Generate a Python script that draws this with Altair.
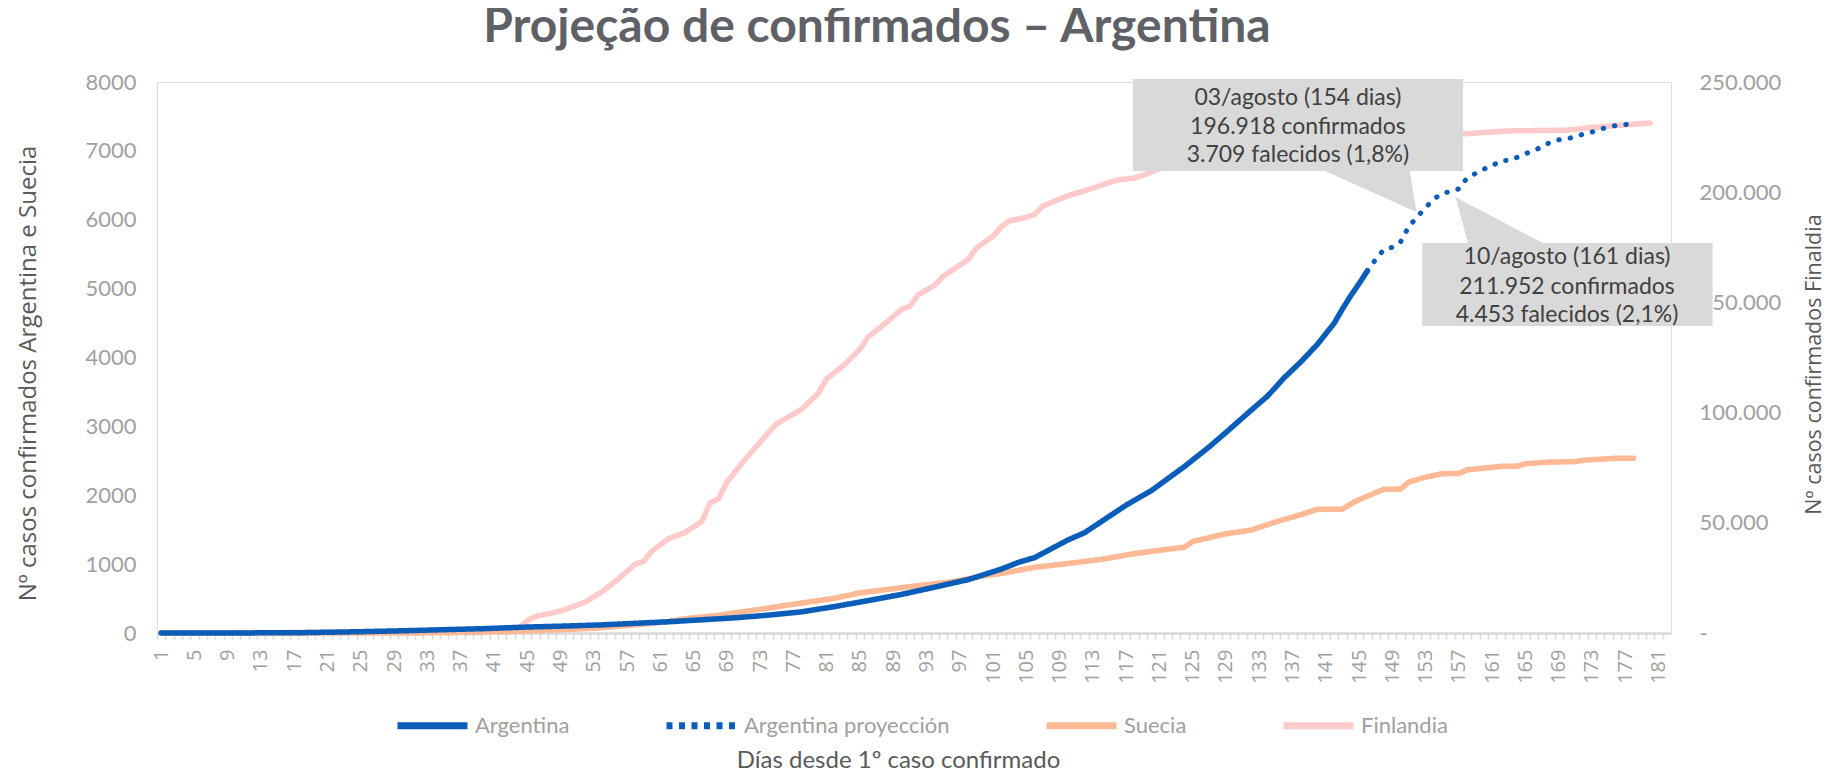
import altair as alt
import pandas as pd

# ---------------- data ----------------
SERIES = ["Argentina", "Argentina proyección", "Suecia", "Finlandia"]
TITLE = "Projeção de confirmados – Argentina"

# Argentina confirmed cases (right axis scale)
arg_days = [1, 10, 18, 22, 25, 30, 35, 40, 45, 50, 54, 58, 62, 66, 70, 74, 78, 82, 86, 90,
            94, 98, 102, 104, 106, 110, 112, 114, 117, 120, 124, 127, 129, 132, 134, 136,
            138, 140, 142, 143, 144, 145, 146]
arg_vals = [1, 20, 150, 400, 600, 1000, 1500, 2000, 2700, 3200, 3700, 4400, 5100, 6000,
            6900, 8100, 9600, 12000, 14700, 17500, 20800, 24200, 29000, 32000, 34200, 42200,
            45500, 50500, 58000, 64500, 75500, 84500, 91000, 101000, 107500, 115800, 123000,
            131000, 140500, 147000, 153000, 158500, 164300]

# Argentina projection (right axis scale)
proj_days = [146, 147, 148, 149, 150, 151, 152, 153, 154, 155, 156, 157, 158, 159, 160, 161,
             162, 163, 164, 165, 166, 167, 168, 169, 170, 171, 172, 173, 174, 175, 176, 177, 178]
proj_vals = [164300, 169500, 174000, 175000, 177500, 184500, 188800, 193000, 196918, 199500,
             200300, 201500, 206500, 208500, 210500, 211952, 214300, 214400, 215800, 217500,
             218800, 220600, 222700, 223800, 224200, 225200, 226400, 227300, 228500, 229700,
             230300, 230700, 231000]

# Suecia confirmed cases (right axis scale)
swe_days = [1, 25, 30, 35, 40, 45, 50, 54, 58, 62, 64, 68, 71, 74, 78, 82, 85, 88, 92, 96,
            100, 102, 106, 110, 114, 118, 122, 124, 125, 129, 132, 135, 138, 140, 143, 144,
            145, 148, 150, 151, 153, 155, 157, 158, 162, 164, 165, 168, 171, 172, 176, 178]
swe_vals = [1, 1, 15, 100, 400, 900, 1600, 2400, 3700, 5200, 6500, 8000, 9700, 11300, 13600,
            15800, 18200, 19600, 21500, 23200, 26000, 27000, 29800, 31500, 33400, 36000,
            38000, 38900, 41500, 45000, 46700, 50400, 53700, 56200, 56200, 58500, 60500,
            65200, 65300, 68500, 70700, 72300, 72400, 74000, 75600, 75700, 76800, 77600,
            77700, 78400, 79300, 79300]

# Finlandia confirmed cases (left axis scale)
fin_days = [1, 38, 41, 43, 44, 45, 46, 48, 49, 50, 52, 54, 56, 58, 59, 60, 62, 64, 66, 67, 68,
            69, 71, 74, 75, 78, 80, 81, 83, 85, 86, 88, 90, 91, 92, 94, 95, 98, 99, 101, 102,
            103, 105, 106, 107, 110, 112, 114, 116, 118, 119, 121, 125, 130, 135, 140, 145,
            150, 154, 158, 163, 170, 173, 180]
fin_vals = [1, 20, 30, 60, 70, 180, 240, 290, 320, 360, 450, 600, 790, 1000, 1040, 1190, 1370,
            1460, 1620, 1890, 1950, 2190, 2490, 2910, 3040, 3250, 3480, 3690, 3880, 4120,
            4300, 4490, 4700, 4745, 4910, 5050, 5180, 5420, 5590, 5760, 5900, 5985, 6035,
            6080, 6200, 6350, 6420, 6500, 6580, 6605, 6645, 6740, 6860, 6960, 7040, 7110,
            7170, 7210, 7235, 7250, 7290, 7300, 7340, 7405]

# Annotations (right axis scale)
box_x1 = [117.8, 152.6]
box_x2 = [157.5, 187.5]
box_y1 = [209600, 139300]
box_y2 = [251400, 176900]
box_cx = [137.65, 170.0]
box_lines = [["03/agosto (154 dias)", "196.918 confirmados", "3.709 falecidos (1,8%)"],
             ["10/agosto (161 dias)", "211.952 confirmados", "4.453 falecidos (2,1%)"]]
box_line_y = [[242700, 229600, 216900], [170400, 157200, 144500]]
# callout triangles: apex (day, value), base left, base right
tail_apex = [(151.9, 191000), (156.6, 197800)]
tail_base = [((140.9, 209600), (151.1, 209600)), ((158.1, 176900), (167.1, 176900))]
# chart title anchor (day, right-axis value)
title_pos = (87.05, 268100)

# ---------------- tables ----------------
def series_df(days, vals, name):
    return pd.DataFrame({"day": days, "value": vals, "serie": name})

right_df = pd.concat([
    series_df(swe_days, swe_vals, "Suecia"),
    series_df(arg_days, arg_vals, "Argentina"),
])
proj_df = series_df(proj_days, proj_vals, "Argentina proyección")
fin_df = series_df(fin_days, fin_vals, "Finlandia")

boxes_df = pd.DataFrame({"x1": box_x1, "x2": box_x2, "y1": box_y1, "y2": box_y2})
text_rows = []
for cx, lines, ys in zip(box_cx, box_lines, box_line_y):
    for t, yv in zip(lines, ys):
        text_rows.append({"x": cx, "y": yv, "t": t})
text_df = pd.DataFrame(text_rows)
title_df = pd.DataFrame({"x": [title_pos[0]], "y": [title_pos[1]], "t": [TITLE]})

tri_rows = []
for i, (apex, (a, b)) in enumerate(zip(tail_apex, tail_base)):
    pts = sorted([apex, a, b])
    (x0, y0), (x1, y1), (x2, y2) = pts
    ym = y0 + (y2 - y0) * (x1 - x0) / (x2 - x0)
    tri_rows += [
        {"k": i, "x": x0, "lo": y0, "hi": y0},
        {"k": i, "x": x1, "lo": min(y1, ym), "hi": max(y1, ym)},
        {"k": i, "x": x2, "lo": y2, "hi": y2},
    ]
tri_df = pd.DataFrame(tri_rows)

# ---------------- styling ----------------
BAND = 1514 / 182.0
XDOM = [0.5, 182.5]
GRAY_LBL = "#A0A0A0"
TITLE_CLR = "#595959"

x_axis = alt.Axis(
    values=list(range(1, 183)),
    labelExpr="(datum.value - 1) % 4 == 0 ? datum.value : ''",
    labelAngle=270, labelAlign="right", labelBaseline="middle",
    labelFont="Open Sans", labelFontSize=20, labelColor=GRAY_LBL,
    labelPadding=10, labelOverlap=False, labelBound=False, labelFlush=False,
    tickOffset=-BAND / 2, labelOffset=BAND / 2,
    ticks=True, tickSize=6, tickColor="#D9D9D9", tickWidth=1.5,
    domain=True, domainColor="#D9D9D9", domainWidth=2.5,
    grid=False, zindex=0,
    title="Días desde 1º caso confirmado",
    titleFont="Lato", titleFontSize=24, titleFontWeight="normal", titleColor=TITLE_CLR,
    titleX=741, titleY=134, titleAlign="center", titleBaseline="alphabetic",
)

def X(field="day"):
    return alt.X(f"{field}:Q", scale=alt.Scale(domain=XDOM, nice=False, zero=False), axis=x_axis)

left_axis = alt.Axis(
    values=list(range(0, 8001, 1000)), format="d",
    labelFont="Lato", labelFontSize=22, labelColor=GRAY_LBL, labelPadding=21,
    ticks=False, domain=False, grid=False, zindex=0,
    title="Nº casos  confirmados Argentina e Suecia",
    titleFont="Open Sans", titleFontSize=24, titleFontWeight="normal", titleColor=TITLE_CLR,
    titleAngle=270, titleAlign="center", titleBaseline="middle",
    titleX=-129, titleY=291,
)
right_axis = alt.Axis(
    orient="right",
    values=list(range(0, 250001, 50000)),
    labelExpr="datum.value == 0 ? '-' : replace(format(datum.value, ','), ',', '.')",
    labelFont="Lato", labelFontSize=22, labelColor=GRAY_LBL, labelPadding=28, labelAlign="left",
    ticks=False, domain=False, grid=False, zindex=0,
    title="Nº casos  confirmados  Finaldia",
    titleFont="Open Sans", titleFontSize=21.5, titleFontWeight="normal", titleColor=TITLE_CLR,
    titleAngle=270, titleAlign="center", titleBaseline="middle",
    titleX=143, titleY=282,
)
YL = alt.Scale(domain=[0, 8000], nice=False)
YR = alt.Scale(domain=[0, 250000], nice=False)

legend_spec = dict(
    title=None, orient="none", direction="horizontal", legendX=237, legendY=605,
    columns=4, columnPadding=82, labelFont="Lato", labelFontSize=22, labelColor=GRAY_LBL,
    labelLimit=400, labelOffset=4, symbolType="stroke", symbolSize=4900,
    symbolStrokeWidth=7,
)
color = alt.Color(
    "serie:N",
    scale=alt.Scale(domain=SERIES, range=["#0A5DB9", "#0A5DB9", "#FFB994", "#FFCACA"]),
    legend=alt.Legend(**legend_spec),
)
dash = alt.StrokeDash(
    "serie:N",
    scale=alt.Scale(domain=SERIES, range=[[1, 0], [6, 6.5], [1, 0], [1, 0]]),
    legend=alt.Legend(**legend_spec),
)

# ---------------- layers ----------------
fin_layer = alt.Chart(fin_df).mark_line(strokeWidth=5.5, strokeJoin="round", strokeCap="round").encode(
    x=X(), y=alt.Y("value:Q", scale=YL, axis=left_axis), color=color, strokeDash=dash,
    detail="serie:N",
)

right_lines = alt.Chart(right_df).mark_line(strokeWidth=5.5, strokeJoin="round", strokeCap="round").encode(
    x=X(), y=alt.Y("value:Q", scale=YR, axis=right_axis), color=color, strokeDash=dash,
    detail="serie:N",
)
proj_layer = alt.Chart(proj_df).mark_line(
    strokeWidth=5, strokeCap="round", strokeDash=[0.5, 11]
).encode(
    x=X(), y=alt.Y("value:Q", scale=YR, axis=right_axis), color=color,
)
tri_layer = alt.Chart(tri_df).mark_area(color="#D9D9D9", interpolate="linear").encode(
    x=X("x"), y=alt.Y("lo:Q", scale=YR, axis=right_axis), y2="hi:Q", detail="k:N",
)
box_layer = alt.Chart(boxes_df).mark_rect(color="#D9D9D9").encode(
    x=X("x1"), x2="x2:Q", y=alt.Y("y1:Q", scale=YR, axis=right_axis), y2="y2:Q",
)
text_layer = alt.Chart(text_df).mark_text(
    font="Lato", fontSize=23, color="#404040", align="center", baseline="middle"
).encode(
    x=X("x"), y=alt.Y("y:Q", scale=YR, axis=right_axis), text="t:N",
)
title_layer = alt.Chart(title_df).mark_text(
    font="Lato", fontSize=48, fontWeight="bold", color="#5F6167",
    align="center", baseline="alphabetic",
).encode(
    x=X("x"), y=alt.Y("y:Q", scale=YR, axis=right_axis), text="t:N",
)

right_group = alt.layer(right_lines, proj_layer, tri_layer, box_layer, text_layer, title_layer)

chart = alt.layer(fin_layer, right_group).resolve_scale(y="independent").properties(
    width=1514, height=551,
    autosize=alt.AutoSizeParams(type="none"),
    padding={"left": 149, "top": 74, "right": 156, "bottom": 137},
).configure_view(stroke=None).configure(background="white")

chart.save("out.html", embed_options={"renderer": "svg", "actions": False})
